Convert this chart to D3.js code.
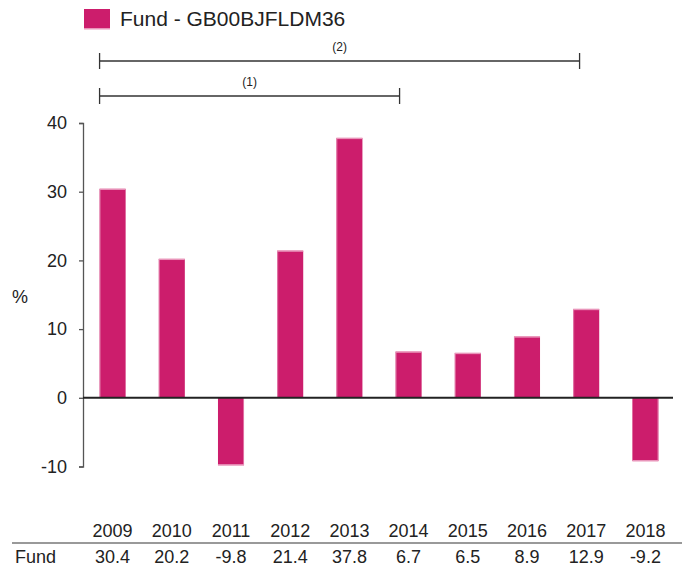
<!DOCTYPE html>
<html><head><meta charset="utf-8">
<script src="https://cdn.jsdelivr.net/npm/d3@7"></script>
<style>body{margin:0;background:#fff}svg{display:block;font-family:"Liberation Sans",Arial,sans-serif}</style>
</head><body><svg id="c" width="682" height="566"></svg>
<script>
const years = ["2009","2010","2011","2012","2013","2014","2015","2016","2017","2018"];
const fund = [30.4,20.2,-9.8,21.4,37.8,6.7,6.5,8.9,12.9,-9.2];
const yTicks = [-10,0,10,20,30,40];
const seriesName = "Fund - GB00BJFLDM36";
const rowLabel = "Fund";
const periods = [{label:"(1)", years:5},{label:"(2)", years:8}];

const svg = d3.select("#c");
const x = d3.scaleBand().domain(years).range([83,675]).paddingInner(0.56).paddingOuter(0.28);
const y = d3.scaleLinear().domain([-10,40]).range([466.5,123]);
const col = "#cc1d6c", light = "#e995ba", txt = "#222";
const fmt = d => String(d);

// legend
svg.append("rect").attr("x",84).attr("y",9).attr("width",26).attr("height",20).attr("fill",col);
svg.append("rect").attr("x",84).attr("y",28).attr("width",26).attr("height",1.5).attr("fill",light);
svg.append("text").attr("x",120).attr("y",26).attr("font-size",21).attr("fill",txt).text(seriesName);

// y axis
const ya = svg.append("g").attr("transform","translate(83,0)")
  .call(d3.axisLeft(y).tickValues(yTicks).tickSize(4).tickPadding(12).tickFormat(fmt));
ya.select(".domain").attr("stroke","#555").attr("stroke-width",1.3);
ya.selectAll(".tick line").attr("stroke","#555").attr("stroke-width",1.3);
ya.selectAll(".tick text").attr("font-size",18).attr("fill",txt).attr("font-family","Liberation Sans,Arial,sans-serif");
svg.append("text").attr("x",12).attr("y",303).attr("font-size",18).attr("fill",txt).text("%");

// bars
svg.selectAll(".bar").data(fund).enter().append("rect")
  .attr("x",(d,i)=>x(years[i])).attr("width",x.bandwidth())
  .attr("y",d=>y(Math.max(0,d))).attr("height",d=>Math.abs(y(d)-y(0)))
  .attr("fill",col);
// light edges
svg.selectAll(".cap").data(fund).enter().append("rect")
  .attr("x",(d,i)=>x(years[i])).attr("width",x.bandwidth())
  .attr("y",d=>d>0?y(d)-0.5:y(d)-1).attr("height",1.5)
  .attr("fill",light);
svg.selectAll(".side").data(fund).enter().append("rect")
  .attr("x",(d,i)=>d>0?x(years[i]):x(years[i])+x.bandwidth()-1)
  .attr("width",1)
  .attr("y",d=>y(Math.max(0,d))).attr("height",d=>Math.abs(y(d)-y(0)))
  .attr("fill",light).attr("opacity",0.7);

// zero line
svg.append("line").attr("x1",83).attr("x2",673).attr("y1",y(0)).attr("y2",y(0)).attr("stroke","#222").attr("stroke-width",2);

// period brackets
const bx0 = x(years[0]);
const by = [96,61];
periods.forEach((p,i)=>{
  const x1 = bx0 + p.years*60;
  const g = svg.append("g").attr("stroke","#333").attr("stroke-width",1.3);
  g.append("line").attr("x1",bx0).attr("x2",x1).attr("y1",by[i]).attr("y2",by[i]);
  g.append("line").attr("x1",bx0).attr("x2",bx0).attr("y1",by[i]-8).attr("y2",by[i]+8);
  g.append("line").attr("x1",x1).attr("x2",x1).attr("y1",by[i]-8).attr("y2",by[i]+8);
  svg.append("text").attr("x",(bx0+x1)/2).attr("y",by[i]-10).attr("text-anchor","middle")
    .attr("font-size",12).attr("fill",txt).text(p.label);
});

// table
svg.selectAll(".yr").data(years).enter().append("text")
  .attr("x",d=>x(d)+x.bandwidth()/2).attr("y",537).attr("text-anchor","middle")
  .attr("font-size",18).attr("fill",txt).text(d=>d);
svg.append("line").attr("x1",12).attr("x2",682).attr("y1",543).attr("y2",543).attr("stroke","#777").attr("stroke-width",1.5);
svg.append("text").attr("x",15).attr("y",563).attr("font-size",18).attr("fill",txt).text(rowLabel);
svg.selectAll(".val").data(fund).enter().append("text")
  .attr("x",(d,i)=>x(years[i])+x.bandwidth()/2).attr("y",563).attr("text-anchor","middle")
  .attr("font-size",18).attr("fill",txt).text(d=>d.toFixed(1));
</script></body></html>
